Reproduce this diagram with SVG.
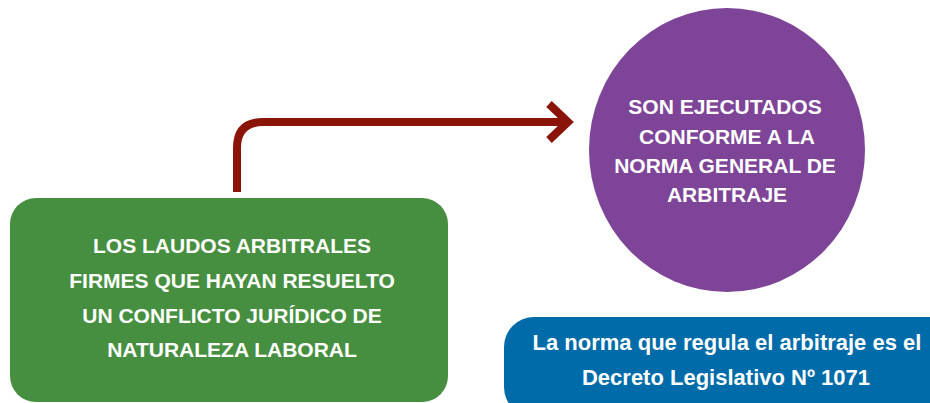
<svg xmlns="http://www.w3.org/2000/svg" width="930" height="403" viewBox="0 0 930 403">
<style>
.t{font-family:"Liberation Sans","Arial",sans-serif;font-weight:bold;fill:#fff;text-anchor:middle}
.c{fill:none;stroke:#8B1408;stroke-width:8}
</style>
<rect width="930" height="403" fill="#fff"/>
<g id="connectors">
<path class="c" d="M237 192 V148 Q237 122 263 122 H568"/>
<path class="c" d="M549 104 L568 122 L549 140" stroke-linecap="butt"/>
</g>
<g id="node-laudos">
<rect x="10" y="198" width="438" height="204" rx="26" fill="#478F40"/>
<text class="t" font-size="21" x="232" y="253">LOS LAUDOS ARBITRALES</text>
<text class="t" font-size="21" x="232" y="288">FIRMES QUE HAYAN RESUELTO</text>
<text class="t" font-size="21" x="232" y="323">UN CONFLICTO JURÍDICO DE</text>
<text class="t" font-size="21" x="232" y="357">NATURALEZA LABORAL</text>
</g>
<g id="node-ejecutados">
<ellipse cx="727" cy="150" rx="138" ry="142" fill="#7E4497"/>
<text class="t" font-size="21" x="725" y="114">SON EJECUTADOS</text>
<text class="t" font-size="21" x="727" y="144">CONFORME A LA</text>
<text class="t" font-size="21" x="725" y="173">NORMA GENERAL DE</text>
<text class="t" font-size="21" x="727" y="202">ARBITRAJE</text>
</g>
<g id="node-norma">
<rect x="504" y="317" width="460" height="100" rx="30" fill="#006BA9"/>
<text class="t" font-size="22" x="727" y="350">La norma que regula el arbitraje es el</text>
<text class="t" font-size="22" x="726" y="385">Decreto Legislativo Nº 1071</text>
</g>
</svg>
